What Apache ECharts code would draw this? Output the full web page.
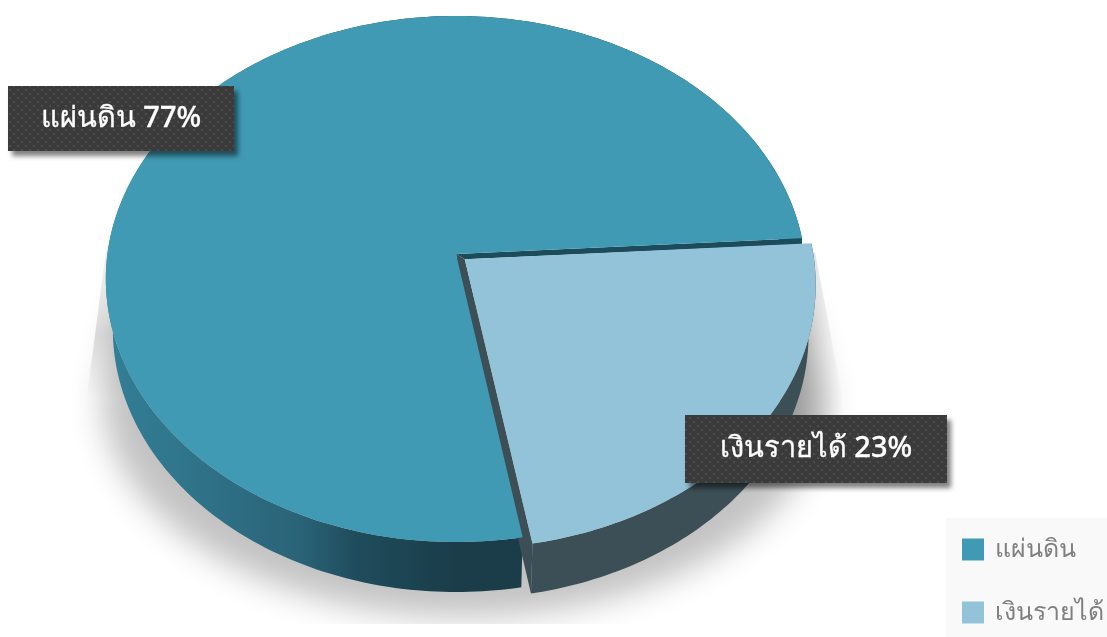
<!DOCTYPE html>
<html><head><meta charset="utf-8">
<style>html,body{margin:0;padding:0;background:#fff}#c{width:1107px;height:637px}</style>
<script src="https://cdn.jsdelivr.net/npm/echarts@6/dist/echarts.min.js"></script>
</head><body><div id="c"></div>
<script>
var categories = ['แผ่นดิน', 'เงินรายได้'];
var shares = [76.8, 23.2];
var colors = ['#409ab3', '#93c3d8'];

var FONT = '"Noto Sans", "DejaVu Sans", sans-serif';
var total = shares[0] + shares[1];
var START = -3.5; // start of the light slice, degrees clockwise from east
var CX = 456, S = 348.6, APEX = 254, A = 236.5, C = -0.0951, DEPTH = 50, BACK = 0.98;

function project(u, v, bottom) {
  var d = 1 + C * v, x = S * u / d, y = (A * v + APEX) / d;
  return bottom ? [CX + x * BACK, y + DEPTH] : [CX + x, y];
}
function arc(a0, a1, ox, oy, bottom) {
  var pts = [], n = Math.max(8, Math.ceil(Math.abs(a1 - a0)));
  for (var i = 0; i <= n; i++) {
    var t = (a0 + (a1 - a0) * i / n) * Math.PI / 180;
    pts.push(project(ox + Math.cos(t), oy + Math.sin(t), bottom));
  }
  return pts;
}
function poly(points, style, z2) {
  return { type: 'polygon', shape: { points: points }, style: style, z2: z2, silent: true };
}
var pat = document.createElement('canvas');
pat.width = 8; pat.height = 8;
(function () {
  var g = pat.getContext('2d');
  g.fillStyle = '#3a3a3a'; g.fillRect(0, 0, 8, 8);
  g.fillStyle = '#4c4c4c';
  g.beginPath(); g.arc(2, 2, 1.3, 0, 7); g.fill();
  g.beginPath(); g.arc(6, 6, 1.3, 0, 7); g.fill();
})();
function labelBox(x, y, w, h, text, z2) {
  return [
    { type: 'rect', shape: { x: x, y: y, width: w, height: h }, z2: z2, silent: true,
      style: { fill: { image: pat, repeat: 'repeat' }, shadowColor: 'rgba(0,0,0,0.5)', shadowBlur: 5, shadowOffsetX: 4, shadowOffsetY: 5 } },
    { type: 'text', z2: z2 + 1, silent: true,
      style: { x: x + w / 2, y: y + h / 2, text: text, fill: '#fff', stroke: '#fff', lineWidth: 0.3, font: '500 29px ' + FONT, align: 'center', verticalAlign: 'middle' } }
  ];
}
function shadowShape() {
  var pts = [[125, 300], [800, 300]];
  for (var i = 0; i <= 60; i++) {
    var t = i / 60 * Math.PI;
    pts.push([464 + 362 * Math.cos(t), 395 + 222 * Math.sin(t)]);
  }
  return pts.map(function (p) { return [p[0] - 3000, p[1]]; });
}
function shadowLayers() {
  return [
    poly(shadowShape(), { fill: '#000', shadowColor: 'rgba(0,0,0,0.24)', shadowBlur: 32, shadowOffsetX: 3000 }, 1),
    poly([[106, 250], [85, 412], [135, 440], [135, 250]], { fill: { type: 'linear', x: 0, y: 250, x2: 0, y2: 440, global: true, colorStops: [
      { offset: 0, color: 'rgba(0,0,0,0.05)' }, { offset: 0.45, color: 'rgba(0,0,0,0.13)' }, { offset: 0.78, color: 'rgba(0,0,0,0)' }, { offset: 1, color: 'rgba(0,0,0,0)' }] } }, 1),
    poly([[815, 252], [843, 400], [843, 440], [780, 440], [780, 252]], { fill: { type: 'linear', x: 785, y: 0, x2: 843, y2: 0, global: true, colorStops: [
      { offset: 0, color: 'rgba(0,0,0,0.24)' }, { offset: 0.5, color: 'rgba(0,0,0,0.11)' }, { offset: 1, color: 'rgba(0,0,0,0)' }] } }, 1),
    { type: 'rect', shape: { x: 0, y: 624, width: 946, height: 13 }, style: { fill: '#fff' }, z2: 2, silent: true }
  ];
}
function renderMain(params, api) {
  var span = 360 * api.value(0) / total;
  var a0 = START + 360 * shares[1] / total, a1 = a0 + span;
  var top = arc(a0, a1, 0, 0, false), bot = arc(a0, a1, 0, 0, true);
  var band = top.concat(bot.slice().reverse());
  var apex = project(0, 0, false);
  return { type: 'group', children: shadowLayers().concat([
    poly(band, { fill: { type: 'linear', x: 0, y: 0, x2: 1, y2: 0, global: false, colorStops: [
      { offset: 0, color: '#327f96' }, { offset: 0.15, color: '#2f7187' }, { offset: 0.28, color: '#2a6377' },
      { offset: 0.36, color: '#1f4c5c' }, { offset: 0.5, color: '#1a3d49' }, { offset: 1, color: '#1a3d49' }] } }, 3),
    poly([apex].concat(top), { fill: api.visual('color') }, 6)
  ]).concat(labelBox(8, 86, 226, 65, categories[0] + ' ' + Math.round(api.value(0)) + '%', 9)) };
}
function renderLight(params, api) {
  var span = 360 * api.value(0) / total;
  var a0 = START, a1 = a0 + span, mid = (a0 + a1) / 2 * Math.PI / 180, e = 0.032;
  var ox = e * Math.cos(mid), oy = e * Math.sin(mid);
  var top = arc(a0, a1, ox, oy, false), bot = arc(a0, a1, ox, oy, true);
  var apexT = project(ox, oy, false), apexB = project(ox, oy, true);
  var endT = top[top.length - 1], endB = bot[bot.length - 1];
  var a0r = a0 * Math.PI / 180;
  var mainEnd = project(Math.cos(a0r), Math.sin(a0r), false), mainApex = project(0, 0, false);
  return { type: 'group', children: [
    poly(top.concat(bot.slice().reverse()), { fill: '#3c4f56' }, 4),
    poly([mainApex, apexT, endT, endB, apexB], { fill: '#3c4f56' }, 4),
    poly([mainApex, mainEnd, [mainEnd[0], mainEnd[1] + 6], apexT], { fill: '#1c4b5b' }, 5),
    poly([apexT].concat(top), { fill: api.visual('color') }, 7)
  ].concat(labelBox(685, 415, 262, 68, categories[1] + ' ' + Math.round(api.value(0)) + '%', 9)) };
}
var chart = echarts.init(document.getElementById('c'), null, { renderer: 'canvas' });
chart.setOption({
  animation: false,
  backgroundColor: '#fff',
  legend: {
    data: categories, orient: 'vertical', left: 946, top: 518, height: 300,
    backgroundColor: '#f9f9f9', padding: [19, 3, 14, 16],
    itemWidth: 22, itemHeight: 22, itemGap: 38, icon: 'rect',
    textStyle: { color: '#7f7f7f', fontSize: 25, fontWeight: 300, fontFamily: FONT, padding: [0, 0, 0, 6] }
  },
  series: [
    { type: 'custom', name: categories[0], coordinateSystem: 'none', data: [[shares[0]]], renderItem: renderMain, itemStyle: { color: colors[0] }, silent: true },
    { type: 'custom', name: categories[1], coordinateSystem: 'none', data: [[shares[1]]], renderItem: renderLight, itemStyle: { color: colors[1] }, silent: true }
  ]
});
</script></body></html>
